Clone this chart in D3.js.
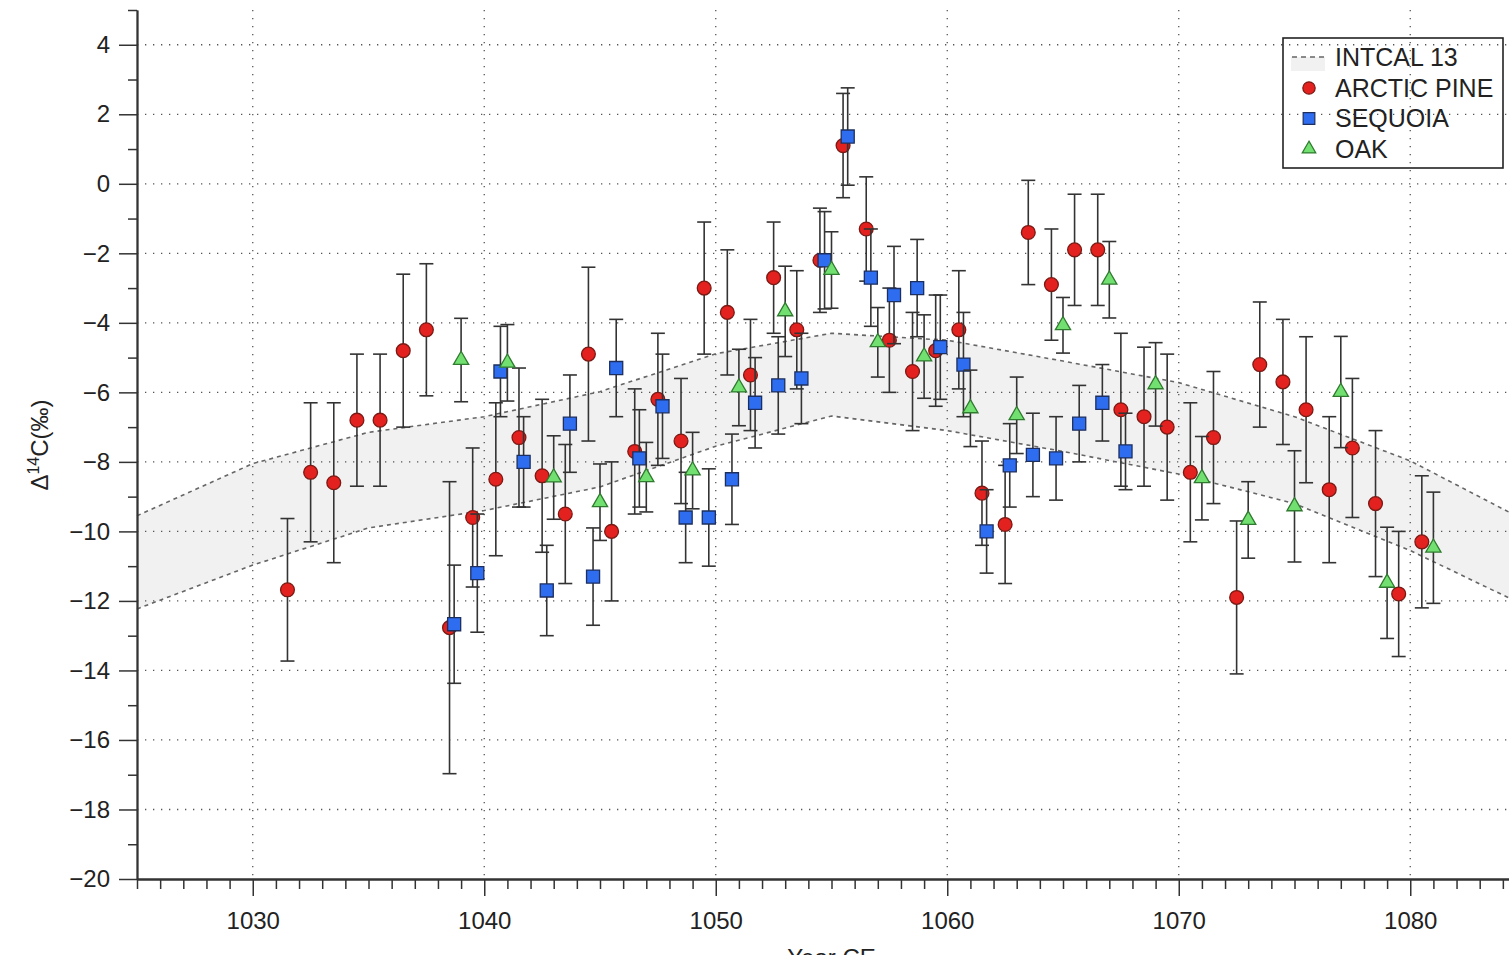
<!DOCTYPE html>
<html>
<head>
<meta charset="utf-8">
<script src="https://cdn.jsdelivr.net/npm/d3@7"></script>
<style>
  body { margin: 0; background: #fff; }
  svg { display: block; font-family: "Liberation Sans", Arial, Helvetica, sans-serif; }
</style>
</head>
<body>
<div id="chart"></div>
<script>
// Δ14C measurements, [year, value (‰), error (‰)]
const arcticPine = [
  [1031, -11.68, 2.05], [1032, -8.3, 2.0], [1033, -8.6, 2.3], [1034, -6.8, 1.9], [1035, -6.8, 1.9],
  [1036, -4.8, 2.2], [1037, -4.2, 1.9], [1038, -12.77, 4.2], [1039, -9.6, 2.0], [1040, -8.5, 2.2],
  [1041, -7.3, 2.0], [1042, -8.4, 2.2], [1043, -9.5, 2.0], [1044, -4.9, 2.5], [1045, -10.0, 2.0],
  [1046, -7.7, 1.8], [1047, -6.2, 1.9], [1048, -7.4, 1.8], [1049, -3.0, 1.9], [1050, -3.7, 1.8],
  [1051, -5.5, 1.6], [1052, -2.7, 1.6], [1053, -4.2, 1.7], [1054, -2.2, 1.5], [1055, 1.1, 1.5],
  [1056, -1.3, 1.5], [1057, -4.5, 1.5], [1058, -5.4, 1.7], [1059, -4.8, 1.6], [1060, -4.2, 1.7],
  [1061, -8.9, 1.5], [1062, -9.8, 1.7], [1063, -1.4, 1.5], [1064, -2.9, 1.6], [1065, -1.9, 1.6],
  [1066, -1.9, 1.6], [1067, -6.5, 2.2], [1068, -6.7, 2.0], [1069, -7.0, 2.1], [1070, -8.3, 2.0],
  [1071, -7.3, 1.9], [1072, -11.9, 2.2], [1073, -5.2, 1.8], [1074, -5.7, 1.8], [1075, -6.5, 2.1],
  [1076, -8.8, 2.1], [1077, -7.6, 2.0], [1078, -9.2, 2.1], [1079, -11.8, 1.8], [1080, -10.3, 1.9]
];
const sequoia = [
  [1038, -12.67, 1.7], [1039, -11.2, 1.7], [1040, -5.4, 1.3], [1041, -8.0, 1.3], [1042, -11.7, 1.3],
  [1043, -6.9, 1.4], [1044, -11.3, 1.4], [1045, -5.3, 1.4], [1046, -7.9, 1.4], [1047, -6.4, 1.5],
  [1048, -9.6, 1.3], [1049, -9.6, 1.4], [1050, -8.5, 1.3], [1051, -6.3, 1.3], [1052, -5.8, 1.4],
  [1053, -5.6, 1.3], [1054, -2.2, 1.4], [1055, 1.36, 1.4], [1056, -2.7, 1.4], [1057, -3.2, 1.4],
  [1058, -3.0, 1.4], [1059, -4.7, 1.5], [1060, -5.2, 1.5], [1061, -10.0, 1.2], [1062, -8.1, 1.2],
  [1063, -7.8, 1.2], [1064, -7.9, 1.2], [1065, -6.9, 1.1], [1066, -6.3, 1.1], [1067, -7.7, 1.1]
];
const oak = [
  [1039, -5.07, 1.2], [1041, -5.15, 1.1], [1043, -8.45, 1.2], [1045, -9.16, 1.1], [1047, -8.44, 1.0],
  [1049, -8.25, 1.1], [1051, -5.86, 1.1], [1053, -3.67, 1.3], [1055, -2.48, 1.1], [1057, -4.56, 1.0],
  [1059, -4.97, 1.2], [1061, -6.46, 1.1], [1063, -6.66, 1.1], [1065, -4.07, 0.8], [1067, -2.76, 1.1],
  [1069, -5.77, 1.2], [1071, -8.47, 1.2], [1073, -9.67, 1.1], [1075, -9.28, 1.6], [1077, -5.99, 1.6],
  [1079, -11.48, 1.6], [1081, -10.47, 1.6]
];

// IntCal13 envelope
const intcalYears = [1025, 1030, 1035, 1040, 1045, 1050, 1055, 1060, 1065, 1070, 1075, 1080, 1085];
const intcalUpper = [-9.55, -8.05, -7.15, -6.7, -5.98, -4.89, -4.3, -4.5, -5.1, -5.72, -6.7, -7.97, -9.7];
const intcalLower = [-12.23, -10.97, -9.9, -9.4, -8.72, -7.55, -6.68, -7.1, -7.7, -8.35, -9.2, -10.55, -12.15];

const yMajorTicks = d3.range(-20, 5, 2);
const xMajorTicks = [1030, 1040, 1050, 1060, 1070, 1080];
const legendLabels = ["INTCAL 13", "ARCTIC PINE", "SEQUOIA", "OAK"];

const width = 1509, height = 955;
const svg = d3.select('#chart').append('svg')
  .attr('width', width)
  .attr('height', height);

const x = d3.scaleLinear().domain([1025, 1085]).range([137, 1526]);
const y = d3.scaleLinear().domain([-20, 5]).range([879, 10]);

// band
const band = intcalYears.map((yr, i) => ({ yr: yr, hi: intcalUpper[i], lo: intcalLower[i] }));
svg.append('path')
  .datum(band)
  .attr('fill', '#f1f1f1')
  .attr('d', d3.area().x(d => x(d.yr)).y0(d => y(d.lo)).y1(d => y(d.hi)));

// dotted grid
const grid = svg.append('g').attr('stroke', '#555').attr('stroke-width', 1.3)
  .attr('stroke-dasharray', '1.3,6.7');
grid.selectAll('.gy').data(yMajorTicks.filter(v => v > -20))
  .enter().append('line')
  .attr('x1', x(1025)).attr('x2', width)
  .attr('y1', d => y(d)).attr('y2', d => y(d));
grid.selectAll('.gx').data(xMajorTicks)
  .enter().append('line')
  .attr('x1', d => x(d)).attr('x2', d => x(d))
  .attr('y1', y(5)).attr('y2', y(-20));

['hi', 'lo'].forEach(function (k) {
  svg.append('path')
    .datum(band)
    .attr('fill', 'none')
    .attr('stroke', '#666')
    .attr('stroke-width', 1.6)
    .attr('stroke-dasharray', '4,4')
    .attr('d', d3.line().x(d => x(d.yr)).y(d => y(d[k])));
});

// axes
const yAxisMajor = d3.axisLeft(y).tickValues(yMajorTicks).tickSize(18).tickPadding(9).tickSizeOuter(0);
const yAxisMinor = d3.axisLeft(y).tickValues(d3.range(-19, 6, 2)).tickSize(9).tickFormat('').tickSizeOuter(0);
const xAxisMajor = d3.axisBottom(x).tickValues(xMajorTicks).tickSize(17).tickPadding(16).tickFormat(d3.format('d')).tickSizeOuter(0);
const xAxisMinor = d3.axisBottom(x).tickValues(d3.range(1025, 1086).filter(v => v % 10 !== 0)).tickSize(10).tickFormat('').tickSizeOuter(0);

[yAxisMinor, yAxisMajor].forEach(function (ax) {
  svg.append('g').attr('transform', 'translate(137,0)').call(ax);
});
[xAxisMinor, xAxisMajor].forEach(function (ax) {
  svg.append('g').attr('transform', 'translate(0,879)').call(ax);
});
svg.selectAll('.domain').attr('stroke', '#333').attr('stroke-width', 1.8);
svg.selectAll('.tick line').attr('stroke', '#333').attr('stroke-width', 1.5);
svg.selectAll('.tick text').attr('fill', '#222').style('font-size', '24px');

svg.append('text')
  .attr('transform', 'translate(48,445) rotate(-90)')
  .attr('text-anchor', 'middle')
  .attr('fill', '#222')
  .style('font-size', '24px')
  .html('Δ<tspan dy="-9" font-size="16">14</tspan><tspan dy="9">C(‰)</tspan>');

svg.append('text')
  .attr('x', x(1055)).attr('y', 966)
  .attr('text-anchor', 'middle')
  .attr('fill', '#222')
  .style('font-size', '24px')
  .text('Year CE');

// series
const series = [
  { data: arcticPine, dodge: 0.5, shape: d3.symbolCircle, size: 150, fill: '#e3211f', stroke: '#7a1a14' },
  { data: sequoia, dodge: 0.7, shape: d3.symbolSquare, size: 170, fill: '#2f6df0', stroke: '#1c2f5e' },
  { data: oak, dodge: 0, shape: d3.symbolTriangle, size: 100, fill: '#72e070', stroke: '#2f7a2f' }
];

const cap = 7;
series.forEach(function (s) {
  const g = svg.append('g');
  const eb = g.selectAll('g.eb').data(s.data).enter().append('g')
    .attr('stroke', '#333').attr('stroke-width', 1.6);
  eb.append('line')
    .attr('x1', d => x(d[0] + s.dodge)).attr('x2', d => x(d[0] + s.dodge))
    .attr('y1', d => y(d[1] + d[2])).attr('y2', d => y(d[1] - d[2]));
  eb.append('line')
    .attr('x1', d => x(d[0] + s.dodge) - cap).attr('x2', d => x(d[0] + s.dodge) + cap)
    .attr('y1', d => y(d[1] + d[2])).attr('y2', d => y(d[1] + d[2]));
  eb.append('line')
    .attr('x1', d => x(d[0] + s.dodge) - cap).attr('x2', d => x(d[0] + s.dodge) + cap)
    .attr('y1', d => y(d[1] - d[2])).attr('y2', d => y(d[1] - d[2]));
  g.selectAll('path.pt').data(s.data).enter().append('path')
    .attr('d', d3.symbol().type(s.shape).size(s.size))
    .attr('transform', d => 'translate(' + x(d[0] + s.dodge) + ',' + y(d[1]) + ')')
    .attr('fill', s.fill)
    .attr('stroke', s.stroke)
    .attr('stroke-width', 1.3);
});

// legend
const legend = svg.append('g');
legend.append('rect')
  .attr('x', 1283).attr('y', 38).attr('width', 220).attr('height', 130)
  .attr('fill', 'none').attr('stroke', '#222').attr('stroke-width', 1.6);
legend.append('rect')
  .attr('x', 1291).attr('y', 57).attr('width', 34).attr('height', 14).attr('fill', '#f1f1f1');
legend.append('line')
  .attr('x1', 1292).attr('x2', 1325).attr('y1', 57).attr('y2', 57)
  .attr('stroke', '#666').attr('stroke-width', 1.6).attr('stroke-dasharray', '5,4');
series.forEach(function (s, i) {
  legend.append('path')
    .attr('d', d3.symbol().type(s.shape).size(s.size * 0.8))
    .attr('transform', 'translate(1309,' + (88 + i * 30.5) + ')')
    .attr('fill', s.fill).attr('stroke', s.stroke).attr('stroke-width', 1.2);
});
legend.selectAll('text').data(legendLabels).enter().append('text')
  .attr('x', 1335)
  .attr('y', (d, i) => 57 + i * 30.5)
  .attr('dy', '0.36em')
  .attr('fill', '#222')
  .style('font-size', '25px')
  .text(d => d);
</script>
</body>
</html>
